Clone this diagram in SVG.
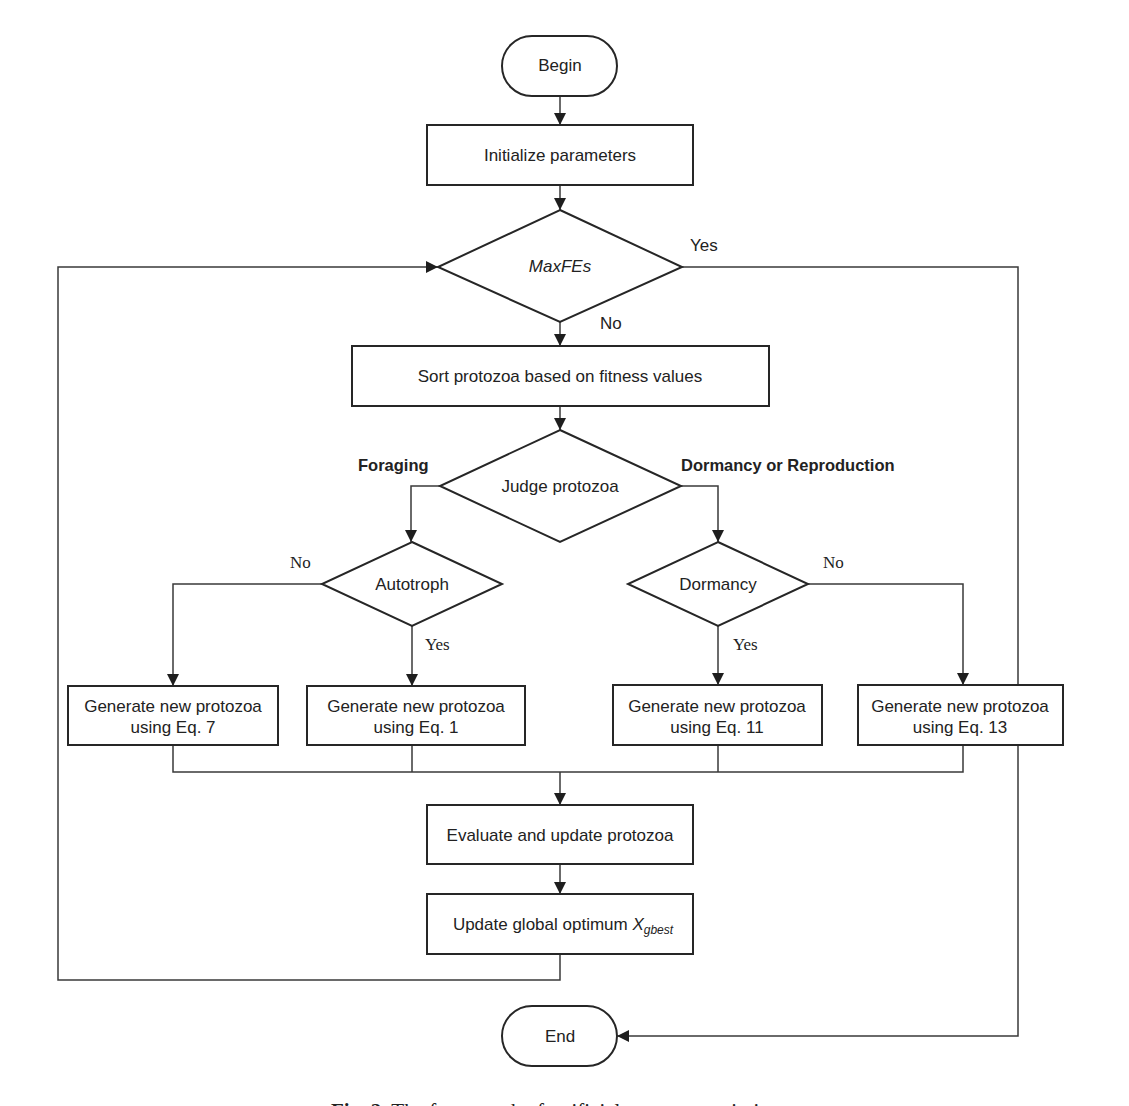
<svg xmlns="http://www.w3.org/2000/svg" width="1129" height="1106" viewBox="0 0 1129 1106">
<style>
.shape{fill:#fff;stroke:#262626;stroke-width:2}
.conn{fill:none;stroke:#3a3a3a;stroke-width:1.5}
.t{font-family:"Liberation Sans",Arial,sans-serif;font-size:17px;fill:#222;text-anchor:middle}
.s{font-family:"Liberation Serif","Times New Roman",serif;font-size:17px;fill:#222}
.b{font-family:"Liberation Sans",Arial,sans-serif;font-size:16.5px;font-weight:bold;fill:#222}
.l{font-family:"Liberation Sans",Arial,sans-serif;font-size:17px;fill:#222}
</style>
<defs>
<marker id="arr" markerUnits="userSpaceOnUse" markerWidth="14" markerHeight="14" refX="12" refY="6" orient="auto">
<path d="M0,0 L12,6 L0,12 z" fill="#1e1e1e"/>
</marker>
</defs>
<rect width="1129" height="1106" fill="#fff"/>
<g id="connectors">
<path class="conn" d="M560,96 V125" marker-end="url(#arr)"/>
<path class="conn" d="M560,185 V210" marker-end="url(#arr)"/>
<path class="conn" d="M560,322 V346" marker-end="url(#arr)"/>
<path class="conn" d="M560,406 V430" marker-end="url(#arr)"/>
<path class="conn" d="M440,486 H411 V542" marker-end="url(#arr)"/>
<path class="conn" d="M681,486 H718 V542" marker-end="url(#arr)"/>
<path class="conn" d="M322,584 H173 V686" marker-end="url(#arr)"/>
<path class="conn" d="M412,626 V686" marker-end="url(#arr)"/>
<path class="conn" d="M718,626 V685" marker-end="url(#arr)"/>
<path class="conn" d="M808,584 H963 V685" marker-end="url(#arr)"/>
<path class="conn" d="M173,745 V772 H963 V745 M412,745 V772 M718,745 V772"/>
<path class="conn" d="M560,772 V805" stroke-width="2" marker-end="url(#arr)"/>
<path class="conn" d="M560,864 V894" marker-end="url(#arr)"/>
<path class="conn" d="M560,954 V980 H58 V267 H438" marker-end="url(#arr)"/>
<path class="conn" d="M682,267 H1018 V1036 H617" marker-end="url(#arr)"/>
</g>
<g id="begin"><rect class="shape" x="502" y="36" width="115" height="60" rx="30"/><text class="t" x="560" y="71">Begin</text></g>
<g id="init"><rect class="shape" x="427" y="125" width="266" height="60"/><text class="t" x="560" y="161">Initialize parameters</text></g>
<g id="maxfes"><polygon class="shape" points="560,210 682,267 560,322 438,267"/><text class="t" x="560" y="272" font-style="italic">MaxFEs</text></g>
<g id="sort"><rect class="shape" x="352" y="346" width="417" height="60"/><text class="t" x="560" y="382">Sort protozoa based on fitness values</text></g>
<g id="judge"><polygon class="shape" points="560,430 681,486 560,542 440,486"/><text class="t" x="560" y="492">Judge protozoa</text></g>
<g id="autotroph"><polygon class="shape" points="412,542 502,584 412,626 322,584"/><text class="t" x="412" y="590">Autotroph</text></g>
<g id="dormancy"><polygon class="shape" points="718,542 808,584 718,626 628,584"/><text class="t" x="718" y="590">Dormancy</text></g>
<g id="eq7"><rect class="shape" x="68" y="686" width="210" height="59"/><text class="t" x="173" y="712">Generate new protozoa</text><text class="t" x="173" y="733">using Eq. 7</text></g>
<g id="eq1"><rect class="shape" x="307" y="686" width="218" height="59"/><text class="t" x="416" y="712">Generate new protozoa</text><text class="t" x="416" y="733">using Eq. 1</text></g>
<g id="eq11"><rect class="shape" x="613" y="685" width="209" height="60"/><text class="t" x="717" y="712">Generate new protozoa</text><text class="t" x="717" y="733">using Eq. 11</text></g>
<g id="eq13"><rect class="shape" x="858" y="685" width="205" height="60"/><text class="t" x="960" y="712">Generate new protozoa</text><text class="t" x="960" y="733">using Eq. 13</text></g>
<g id="evaluate"><rect class="shape" x="427" y="805" width="266" height="59"/><text class="t" x="560" y="841">Evaluate and update protozoa</text></g>
<g id="update"><rect class="shape" x="427" y="894" width="266" height="60"/><text class="t" x="563" y="930">Update global optimum <tspan font-style="italic">X</tspan><tspan font-style="italic" font-size="12" dy="4">gbest</tspan></text></g>
<g id="end"><rect class="shape" x="502" y="1006" width="115" height="60" rx="30"/><text class="t" x="560" y="1042">End</text></g>
<g id="labels">
<text class="l" x="690" y="251">Yes</text>
<text class="l" x="600" y="329">No</text>
<text class="b" x="358" y="471">Foraging</text>
<text class="b" x="681" y="471">Dormancy or Reproduction</text>
<text class="s" x="290" y="568">No</text>
<text class="s" x="425" y="650">Yes</text>
<text class="s" x="823" y="568">No</text>
<text class="s" x="733" y="650">Yes</text>
</g>
<text x="560" y="1118" font-family="'Liberation Serif','Times New Roman',serif" font-size="21" fill="#222" text-anchor="middle"><tspan font-weight="bold">Fig. 2.</tspan>  The framework of artificial protozoa optimizer.</text>
</svg>
